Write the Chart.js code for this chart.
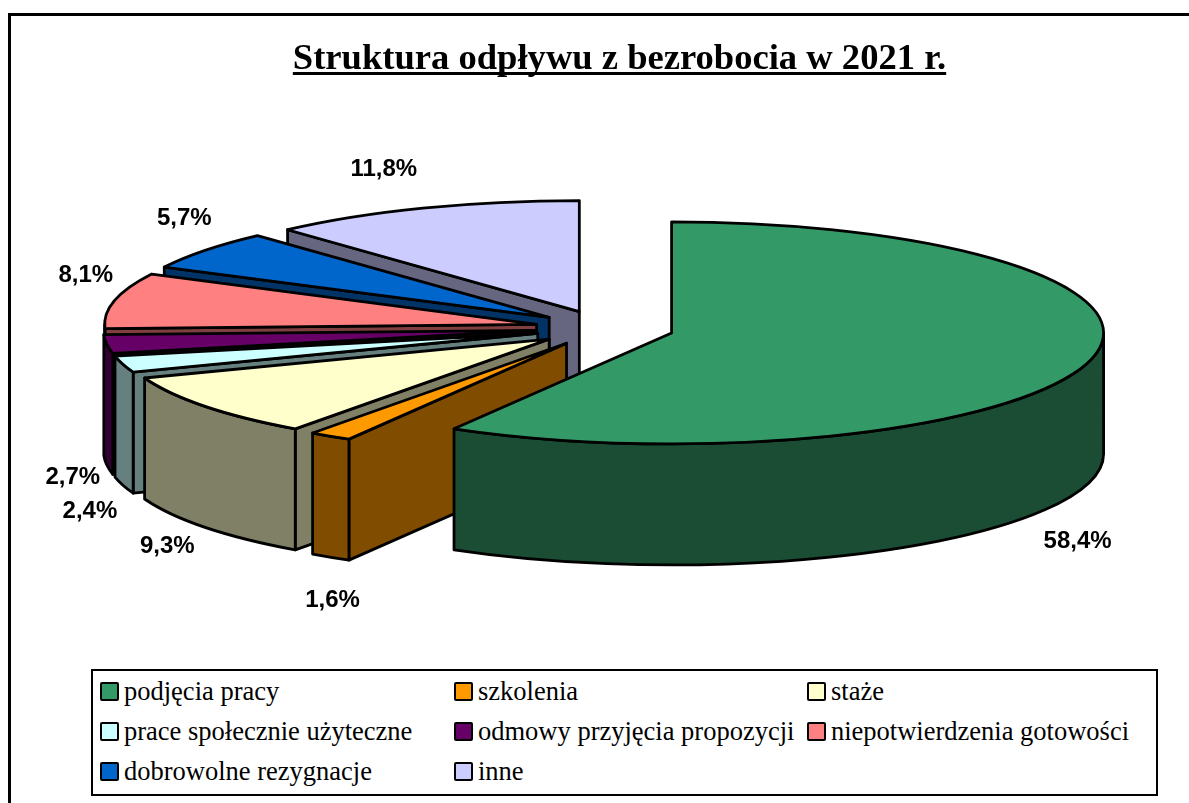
<!DOCTYPE html>
<html>
<head>
<meta charset="utf-8">
<script src="https://cdn.jsdelivr.net/npm/chart.js@4"></script>
<style>
  html, body { margin: 0; padding: 0; background: #fff; overflow: hidden; }
  #wrap { position: relative; width: 1189px; height: 803px; }
  #frame { position: absolute; left: 8px; top: 13px; width: 1200px; height: 820px; border: 3px solid #000; box-sizing: border-box; }
  #pie { position: absolute; left: 0; top: 0; }
  #legend {
    position: absolute; left: 91px; top: 669px; width: 1067px; height: 127px;
    box-sizing: border-box; border: 2px solid #000; background: #fff;
    display: grid; grid-template-columns: 354px 353px 1fr; grid-auto-rows: 40px;
    padding: 0 0 0 7px;
    font: 26.5px "Liberation Serif", serif; color: #000;
  }
  .item { display: flex; align-items: center; white-space: nowrap; }
  .swatch { width: 15px; height: 15px; border: 2px solid #000; border-radius: 2px; margin-right: 5px; flex: none; }
</style>
</head>
<body>
<div id="wrap">
  <div id="frame"></div>
  <canvas id="pie" width="1189" height="803"></canvas>
  <div id="legend"></div>
</div>
<script>
const titleText = 'Struktura odpływu z bezrobocia w 2021 r.';
const categories = ['podjęcia pracy', 'szkolenia', 'staże', 'prace społecznie użyteczne',
  'odmowy przyjęcia propozycji', 'niepotwierdzenia gotowości', 'dobrowolne rezygnacje', 'inne'];
const shares = [58.4, 1.6, 9.3, 2.4, 2.7, 8.1, 5.7, 11.8];
const topColors = ['#339966', '#FF9900', '#FFFFCC', '#CCFFFF', '#660066', '#FF8080', '#0066CC', '#CCCCFF'];
const wallColors = ['#1A4D33', '#804D00', '#808066', '#668080', '#330033', '#804040', '#003366', '#666680'];

// how far each percent label sits from the rim point of its slice
const labelNudge = [[-11, 179], [2, 164], [-38, 140], [-33, 147], [-34, 133], [-29, -25], [-21, -32], [-39, -39]];

const squash = 0.257;   // ellipse height / width
const depth = 121;      // pie thickness
const explode = 69.5;   // slice pull-out, before squash
const pieShift = -15;   // the title is centred further right than the pie

function outline(ctx) {
  ctx.lineWidth = 2.8;
  ctx.strokeStyle = '#000';
  ctx.lineJoin = 'round';
  ctx.fill();
  ctx.stroke();
}

function drawSlice(ctx, arc, i) {
  const a0 = arc.startAngle, a1 = arc.endAngle, r = arc.outerRadius;
  const mid = (a0 + a1) / 2;
  const x = arc.x + pieShift + explode * Math.cos(mid);
  const y = arc.y + explode * squash * Math.sin(mid);
  const px = a => x + r * Math.cos(a);
  const py = a => y + r * squash * Math.sin(a);

  ctx.fillStyle = wallColors[i];

  // cut faces
  [[a0, Math.cos(a0) < -1e-6], [a1, Math.cos(a1) > 1e-6]].forEach(function (f) {
    if (!f[1]) return;
    ctx.beginPath();
    ctx.moveTo(x, y);
    ctx.lineTo(px(f[0]), py(f[0]));
    ctx.lineTo(px(f[0]), py(f[0]) + depth);
    ctx.lineTo(x, y + depth);
    ctx.closePath();
    outline(ctx);
  });

  // rim, only the part that faces the viewer
  const from = Math.max(a0, 0), to = Math.min(a1, Math.PI);
  if (to > from) {
    ctx.beginPath();
    ctx.ellipse(x, y, r, r * squash, 0, from, to);
    ctx.lineTo(px(to), py(to) + depth);
    ctx.ellipse(x, y + depth, r, r * squash, 0, to, from, true);
    ctx.closePath();
    outline(ctx);
  }

  // top
  ctx.fillStyle = topColors[i];
  ctx.beginPath();
  ctx.moveTo(x, y);
  ctx.ellipse(x, y, r, r * squash, 0, a0, a1);
  ctx.closePath();
  outline(ctx);
}

const pie3d = {
  id: 'pie3d',
  beforeDatasetsDraw(chart) {
    const ctx = chart.ctx;
    const arcs = chart.getDatasetMeta(0).data;
    ctx.save();
    for (let i = arcs.length - 1; i >= 0; i--) drawSlice(ctx, arcs[i], i);

    ctx.fillStyle = '#000';
    ctx.font = 'bold 24px "Liberation Sans", Arial, sans-serif';
    ctx.textAlign = 'center';
    ctx.textBaseline = 'middle';
    arcs.forEach(function (arc, i) {
      const mid = (arc.startAngle + arc.endAngle) / 2;
      const rr = arc.outerRadius + explode;
      const lx = arc.x + pieShift + rr * Math.cos(mid) + labelNudge[i][0];
      const ly = arc.y + rr * squash * Math.sin(mid) + labelNudge[i][1];
      ctx.fillText(shares[i].toFixed(1).replace('.', ',') + '%', lx, ly);
    });
    ctx.restore();
    return false; // slices are done, skip the flat pie
  },
  afterDraw(chart) {
    // Chart.js has no underlined title
    const ctx = chart.ctx, box = chart.titleBlock;
    ctx.save();
    ctx.font = 'bold 36.6px "Liberation Serif", serif';
    const w = ctx.measureText(titleText).width;
    const cx = (box.left + box.right) / 2;
    ctx.fillStyle = '#000';
    ctx.fillRect(cx - w / 2, 72, w, 3);
    ctx.restore();
  }
};

new Chart(document.getElementById('pie'), {
  type: 'pie',
  data: {
    labels: categories,
    datasets: [{ data: shares, backgroundColor: topColors, borderWidth: 0 }]
  },
  options: {
    responsive: false,
    animation: false,
    radius: 432,
    events: [],
    layout: { padding: { left: 50, right: 0, top: 0, bottom: 246.4 } },
    plugins: {
      legend: { display: false },
      tooltip: { enabled: false },
      title: {
        display: true,
        text: titleText,
        color: '#000',
        font: { family: '"Liberation Serif", serif', size: 36.6, weight: 'bold' },
        padding: { top: 38, bottom: 18 }
      }
    }
  },
  plugins: [pie3d]
});

// legend is a fixed three column grid, so it is built by hand
const legendBox = document.getElementById('legend');
categories.forEach(function (name, i) {
  const item = document.createElement('div');
  item.className = 'item';
  const sw = document.createElement('span');
  sw.className = 'swatch';
  sw.style.background = topColors[i];
  item.appendChild(sw);
  item.appendChild(document.createTextNode(name));
  legendBox.appendChild(item);
});
</script>
</body>
</html>
